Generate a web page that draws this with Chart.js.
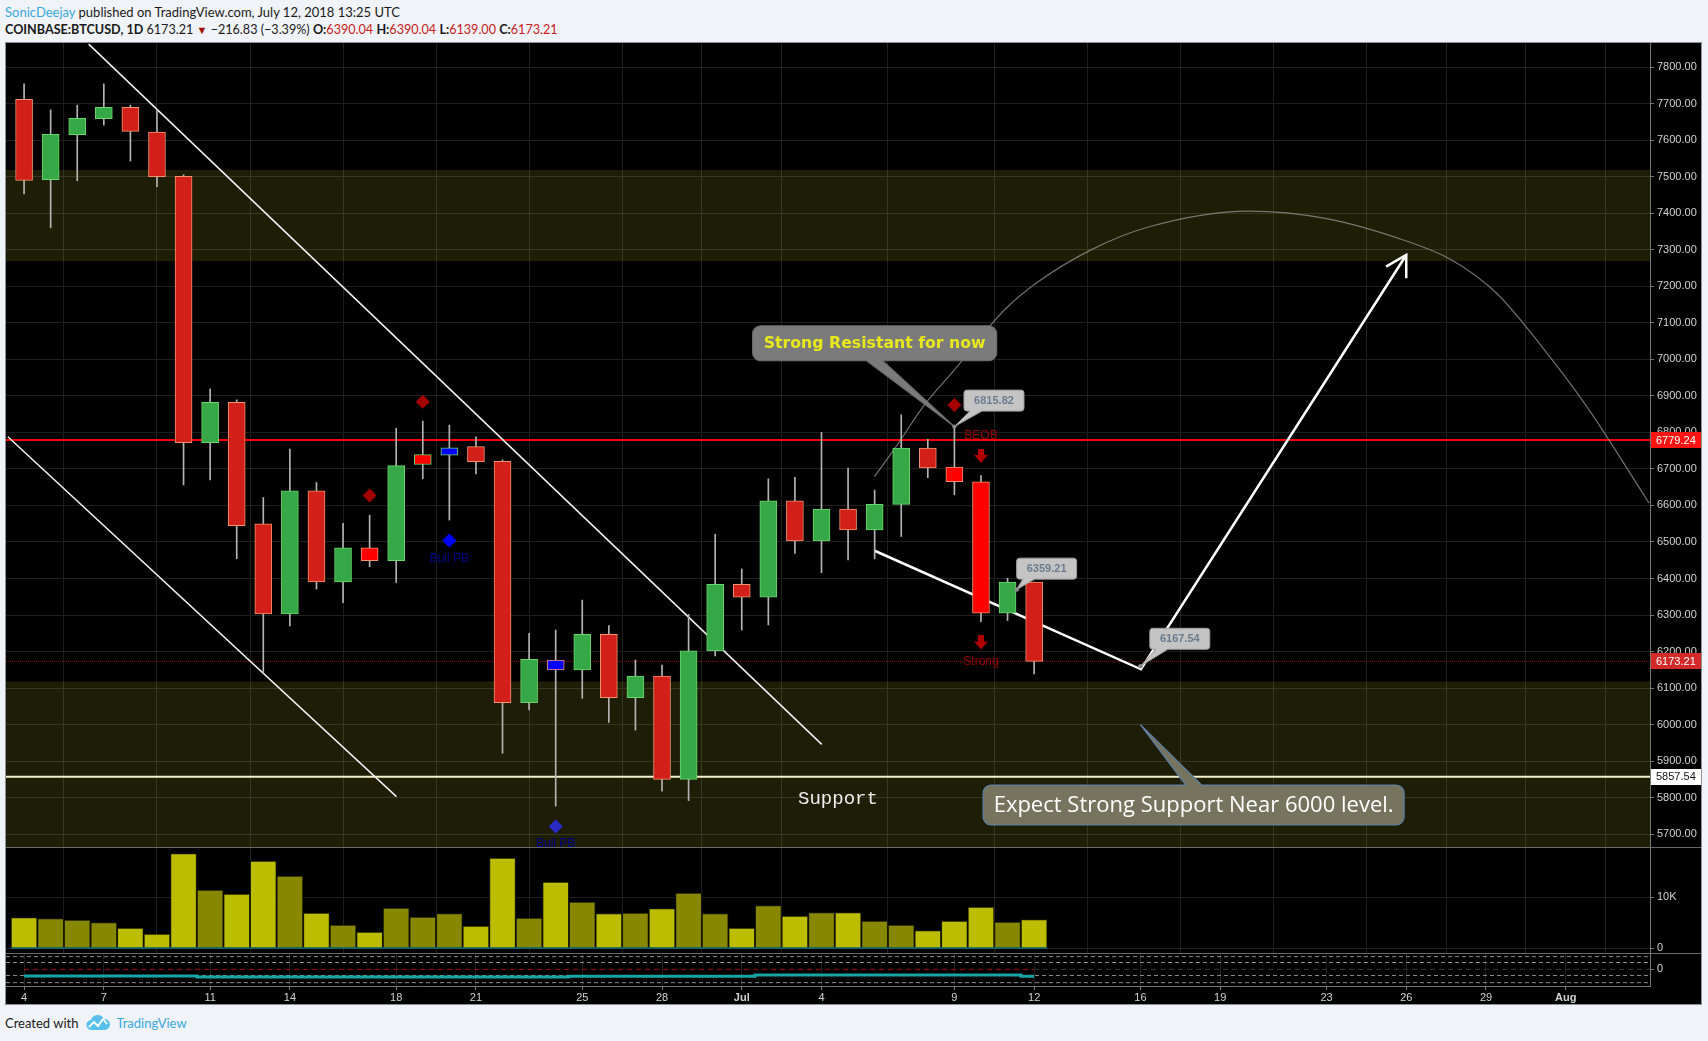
<!DOCTYPE html>
<html>
<head>
<meta charset="utf-8">
<title>COINBASE:BTCUSD 1D</title>
<script src="https://cdn.jsdelivr.net/npm/chart.js@4.4.1/dist/chart.umd.min.js"></script>
<style>
  html, body { margin: 0; padding: 0; }
  body { width: 1708px; height: 1041px; background: #f0f3f7; position: relative; overflow: hidden;
         font-family: Lato, "Liberation Sans", sans-serif; color: #1a1a1a; }
  .hdr { position: absolute; left: 5px; font-size: 13px; white-space: nowrap; }
  #hdr1 { top: 4px; }
  #hdr2 { top: 22px; font-size: 12.6px; }
  .user { color: #3aa8df; }
  .red { color: #c8201e; }
  .dn { color: #a30d0d; font-size: 11px; }
  .panel { position: absolute; left: 5px; top: 42px; width: 1697px; height: 963px; box-sizing: border-box;
           border: 1px solid #8c9298; background: #000; }
  canvas { position: absolute; left: 6px; }
  .sep { position: absolute; left: 6px; width: 1695px; height: 1px; background: #6a6a6a; }
  #foot { position: absolute; left: 5px; top: 1015px; font-size: 13px; display: flex; align-items: center; white-space: nowrap; }
  #foot svg { margin: 0 6px 0 8px; }
  .tv { color: #3aa8df; }
</style>
</head>
<body>
<div class="hdr" id="hdr1"><span class="user">SonicDeejay</span> published on TradingView.com, July 12, 2018 13:25 UTC</div>
<div class="hdr" id="hdr2"><b>COINBASE:BTCUSD, 1D</b> 6173.21 <span class="dn">▼</span> −216.83 (−3.39%) <b>O:</b><span class="red">6390.04</span> <b>H:</b><span class="red">6390.04</span> <b>L:</b><span class="red">6139.00</span> <b>C:</b><span class="red">6173.21</span></div>
<div class="panel"></div>
<canvas id="price" width="1695" height="804" style="top:43px"></canvas>
<div class="sep" style="top:847px"></div>
<canvas id="volume" width="1695" height="105" style="top:848px"></canvas>
<div class="sep" style="top:953px"></div>
<canvas id="osc" width="1695" height="50" style="top:954px"></canvas>
<div id="foot">Created with
  <svg width="24" height="16" viewBox="0 0 24 16"><path d="M6 15 A5 5 0 0 1 5 5 A7 7 0 0 1 18 4 A5.5 5.5 0 0 1 19 15 Z" fill="#58c0ea"/><polyline points="3,12 8,7 12,11 17,4 21,9" fill="none" stroke="#fff" stroke-width="1.8"/></svg>
  <span class="tv">TradingView</span></div>

<script>
// ---- daily candles, 2018-06-04 .. 2018-07-12 (x = day index)
const dates = ['06-04','06-05','06-06','06-07','06-08','06-09','06-10','06-11','06-12','06-13',
               '06-14','06-15','06-16','06-17','06-18','06-19','06-20','06-21','06-22','06-23',
               '06-24','06-25','06-26','06-27','06-28','06-29','06-30','07-01','07-02','07-03',
               '07-04','07-05','07-06','07-07','07-08','07-09','07-10','07-11','07-12'];
const opens  = [7712,7492,7615,7659,7690,7622,7501,6772,6882,6550,6303,6640,6391,6484,6449,6712,6738,6761,6721,6060,
                6177,6150,6247,6074,6133,5850,6202,6384,6349,6613,6503,6590,6533,6603,6757,6705,6665,6305,6390.04];
const highs  = [7754,7683,7696,7754,7696,7683,7505,6919,6889,6622,6754,6663,6551,6573,6811,6831,6820,6788,6725,6250,
                6259,6341,6271,6177,6163,6302,6521,6426,6673,6677,6800,6702,6642,6848,6781,6815.82,6682,6401,6390.04];
const lows   = [7453,7360,7489,7641,7543,7473,6656,6670,6454,6141,6270,6371,6334,6432,6389,6673,6560,6686,5922,6040,
                5777,6072,6006,5985,5818,5792,6188,6259,6273,6469,6416,6451,6454,6515,6676,6629,6282,6285,6139.00];
const closes = [7490,7616,7660,7690,7624,7500,6772,6882,6545,6303,6640,6391,6484,6449,6709,6739,6758,6720,6060,6179,
                6150,6247,6074,6133,5850,6202,6384,6349,6613,6503,6590,6533,6603,6757,6703,6665,6305,6390,6173.21];
const volumes = [5983,5786,5523,4997,3945,2761,18606,11440,10651,17160,14201,6903,4536,3156,7890,6114,6772,4339,17751,5917,
                 13018,9073,6772,6903,7758,10848,6772,3945,8350,6312,6969,6969,5325,4536,3419,5325,8087,5128,5588];
const hotBars  = [13, 15, 35, 36];   // bar colour signal: bright red
const blueBars = [16, 20];           // bar colour signal: blue

// ---- signals
const bearDiamondDays = [13, 15, 35], bearDiamondPrices = [6627, 6884, 6875];
const bullDiamondDays = [16, 20],     bullDiamondPrices = [6504, 5721];
const arrowDays = [36, 36],           arrowPrices = [6736, 6225];
const oscValues = [-1.03,-1.03,-1.03,-1.03,-1.03,-1.03,-1.03,
                   -1.18,-1.18,-1.18,-1.18,-1.18,-1.18,-1.18,-1.18,-1.18,-1.18,-1.18,-1.18,-1.18,-1.18,
                   -1.08,-1.08,-1.08,-1.08,-1.08,-1.08,-1.08,
                   -0.88,-0.88,-0.88,-0.88,-0.88,-0.88,-0.88,-0.88,-0.88,-0.88,-1.08];
const oscLevels = [1.95, 1.05, -0.95, -2.05];

// ---- drawings (day, price)
const resistZone = [7269, 7518];
const supportZone = [5600, 6118];
const redLevel = 6779.24, lastPrice = 6173.21, supportLevel = 5857.54;
const trendUpper = [[2.43, 7863], [30.01, 5946]];
const trendLower = [[-0.61, 6788], [14.01, 5803]];
const projection = [[32.0, 6476], [42.02, 6151.5], [52.0, 7285.6]];
const arrowHead  = [[51.24, 7253.6], [52.0, 7285.6], [52.0, 7221.9]];
const arcPoints  = [[31.99, 6679], [32.72, 6752], [33.92, 6880], [35.0, 6971], [36.21, 7080], [36.88, 7135],
                    [38.07, 7208], [40.12, 7299], [42.33, 7363], [46.06, 7406], [48.95, 7386], [52.0, 7324],
                    [53.71, 7272], [55.4, 7181], [57.1, 7035], [58.8, 6870], [61.14, 6606]];

// ---- axes
const tickDays   = [0, 3, 7, 10, 14, 17, 21, 24, 27, 30, 35, 38, 42, 45, 49, 52, 55, 58];
const tickLabels = ['4','7','11','14','18','21','25','28','Jul','4','9','12','16','19','23','26','29','Aug'];
const priceTicks = [5700,5800,5900,6000,6100,6200,6300,6400,6500,6600,6700,6800,6900,7000,7100,7200,7300,7400,7500,7600,7700,7800];
const volumeTicks = [0, 10000];
const volumeTickLabels = ['0', '10K'];

const X_MIN = -0.68, X_MAX = 61.17;
const P_MIN = 5665, P_MAX = 7866;

const GRID = '#1f1f1f';
const AXIS_LINE = '#777777';
const AXIS_TXT = '#d2d2d2';
const AX_FONT = { family: '"Liberation Sans", Arial, sans-serif', size: 11 };

const UP_FILL = '#36a847', UP_EDGE = '#6bd56b';
const DN_FILL = '#d21f1a', DN_EDGE = '#f0946c';

function isUp(i) { return closes[i] >= opens[i]; }
function bodyFill(i) {
  if (blueBars.includes(i)) return '#0000ff';
  if (hotBars.includes(i)) return '#ff0000';
  return isUp(i) ? UP_FILL : DN_FILL;
}

function arrowImage(color) {
  const c = document.createElement('canvas');
  c.width = 14; c.height = 14;
  const g = c.getContext('2d');
  g.fillStyle = color;
  g.fillRect(4, 0, 6, 7);
  g.beginPath(); g.moveTo(0, 6); g.lineTo(14, 6); g.lineTo(7, 14); g.closePath(); g.fill();
  return c;
}

function pts(list) { return list.map(p => ({ x: p[0], y: p[1] })); }
function flat(v, from, to) { return [{ x: from, y: v }, { x: to, y: v }]; }

function lineSet(data, color, width, order, extra) {
  return Object.assign({ type: 'line', data, borderColor: color, borderWidth: width, pointRadius: 0,
                         fill: false, tension: 0, order }, extra || {});
}

function xAxis(withLabels) {
  return {
    type: 'linear', min: X_MIN, max: X_MAX, offset: false,
    grid: { color: GRID, drawTicks: withLabels, tickLength: 4, tickColor: AXIS_LINE },
    border: { display: withLabels, color: AXIS_LINE },
    ticks: {
      display: withLabels, autoSkip: false, maxRotation: 0, padding: 1, color: AXIS_TXT,
      font: ctx => Object.assign({}, AX_FONT, { weight: /^[A-Z]/.test(tickLabels[ctx.index] || '') ? 'bold' : 'normal' }),
      callback: (v, i) => tickLabels[i]
    },
    afterBuildTicks: s => { s.ticks = tickDays.map(v => ({ value: v })); },
    afterFit: s => { s.height = withLabels ? 18 : 0; s.paddingLeft = 0; s.paddingRight = 0; }
  };
}

function yAxis(min, max, ticks, labels, showGrid) {
  return {
    position: 'right', min, max,
    grid: { color: GRID, drawOnChartArea: showGrid, tickColor: AXIS_LINE, tickLength: 4 },
    border: { color: AXIS_LINE },
    ticks: { color: AXIS_TXT, font: AX_FONT, padding: 3, callback: labels },
    afterBuildTicks: s => { s.ticks = ticks.map(v => ({ value: v })); },
    afterFit: s => { s.width = 51; s.paddingTop = 0; s.paddingBottom = 0; }
  };
}

const baseOptions = {
  responsive: false, animation: false, events: [],
  layout: { padding: 0, autoPadding: false },
  plugins: { legend: { display: false }, tooltip: { enabled: false } }
};

// ---- overlay texts / callouts for the price pane
const signalTexts = [
  { text: 'Bull PB', at: [16, 6453], color: '#00008b', font: '12px "Liberation Sans", Arial' },
  { text: 'Bull PB', at: [20, 5673], color: '#00008b', font: '12px "Liberation Sans", Arial' },
  { text: 'BEOB',    at: [36, 6790], color: '#9a0000', font: '12px "Liberation Sans", Arial' },
  { text: 'Strong',  at: [36, 6171], color: '#9a0000', font: '12px "Liberation Sans", Arial' },
  { text: 'Support', at: [30.62, 5797], color: '#eeeeee', font: '19px "Liberation Mono", monospace' }
];
const bubbles = [
  { text: 'Strong Resistant for now', box: [32.0, 7044], tip: [35, 6815.82], w: 244, h: 35, textW: 222,
    fill: 'rgba(128,128,128,0.96)', stroke: '#6e6e6e', color: '#e8e81c', weight: 'bold', family: '"DejaVu Sans", Verdana, sans-serif' },
  { text: 'Expect Strong Support Near 6000 level.', box: [44.0, 5780], tip: [42.0, 6000], w: 421, h: 40, textW: 400,
    fill: '#76745f', stroke: '#5b80a6', color: '#ffffff', weight: 'normal', family: '"Open Sans", sans-serif' }
];
const priceNotes = [
  { text: '6815.82', box: [36.49, 6887], tip: [35, 6815.82] },
  { text: '6359.21', box: [38.47, 6427], tip: [37.35, 6370] },
  { text: '6167.54', box: [43.48, 6235], tip: [42.0, 6160] }
];
const priceTags = [
  { value: redLevel, bg: '#ff1414', fg: '#ffffff' },
  { value: lastPrice, bg: '#d22a2a', fg: '#ffffff' },
  { value: supportLevel, bg: '#ffffff', fg: '#111111' }
];

function bubblePath(ctx, l, t, w, h, r, tip, b1, b2) {
  const rt = l + w, bt = t + h;
  ctx.beginPath();
  ctx.moveTo(l + r, t);
  if (tip[1] < t) { ctx.lineTo(b1, t); ctx.lineTo(tip[0], tip[1]); ctx.lineTo(b2, t); }
  ctx.lineTo(rt - r, t); ctx.arcTo(rt, t, rt, t + r, r);
  ctx.lineTo(rt, bt - r); ctx.arcTo(rt, bt, rt - r, bt, r);
  if (tip[1] > bt) { ctx.lineTo(b2, bt); ctx.lineTo(tip[0], tip[1]); ctx.lineTo(b1, bt); }
  ctx.lineTo(l + r, bt); ctx.arcTo(l, bt, l, bt - r, r);
  ctx.lineTo(l, t + r); ctx.arcTo(l, t, l + r, t, r);
  ctx.closePath();
}

function fitFont(ctx, text, weight, family, width) {
  ctx.font = weight + ' 20px ' + family;
  const size = 20 * width / ctx.measureText(text).width;
  return weight + ' ' + size.toFixed(2) + 'px ' + family;
}

const overlay = {
  id: 'overlay',
  afterDatasetsDraw(chart) {
    const { ctx, chartArea: a, scales: { x, y } } = chart;
    const X = d => x.getPixelForValue(d), Y = p => y.getPixelForValue(p);
    ctx.save();
    ctx.beginPath(); ctx.rect(a.left, a.top, a.width, a.height); ctx.clip();
    ctx.textAlign = 'center'; ctx.textBaseline = 'middle';

    signalTexts.forEach(s => {
      ctx.font = s.font; ctx.fillStyle = s.color;
      ctx.fillText(s.text, X(s.at[0]), Y(s.at[1]));
    });

    bubbles.forEach(b => {
      const cx = X(b.box[0]), cy = Y(b.box[1]);
      const tip = [X(b.tip[0]), Y(b.tip[1])];
      bubblePath(ctx, cx - b.w / 2, cy - b.h / 2, b.w, b.h, 8, tip, cx - 8, cx + 8);
      ctx.fillStyle = b.fill; ctx.fill();
      ctx.lineWidth = 1.2; ctx.strokeStyle = b.stroke; ctx.stroke();
      ctx.font = fitFont(ctx, b.text, b.weight, b.family, b.textW);
      ctx.fillStyle = b.color;
      ctx.fillText(b.text, cx, cy + 1);
    });

    priceNotes.forEach(n => {
      const cx = X(n.box[0]), cy = Y(n.box[1]);
      const w = 60, h = 21, l = cx - w / 2;
      const tip = [X(n.tip[0]), Y(n.tip[1])];
      bubblePath(ctx, l, cy - h / 2, w, h, 3, tip, l + 6, l + 18);
      ctx.fillStyle = '#c4c4c4'; ctx.fill();
      ctx.lineWidth = 1; ctx.strokeStyle = '#9c9c9c'; ctx.stroke();
      ctx.font = 'bold 11px "Liberation Sans", Arial';
      ctx.fillStyle = '#6a7d90';
      ctx.fillText(n.text, cx, cy + 0.5);
      ctx.beginPath(); ctx.arc(tip[0], tip[1], 2.2, 0, Math.PI * 2);
      ctx.fillStyle = '#8a8a8a'; ctx.fill();
    });
    ctx.restore();
  },
  afterDraw(chart) {
    const { ctx, scales: { y } } = chart;
    ctx.save();
    ctx.font = '11px "Liberation Sans", Arial';
    ctx.textAlign = 'left'; ctx.textBaseline = 'middle';
    priceTags.forEach(t => {
      const py = y.getPixelForValue(t.value);
      ctx.fillStyle = t.bg;
      ctx.fillRect(y.left + 1, Math.round(py) - 8, y.right - y.left - 1, 16);
      ctx.fillStyle = t.fg;
      ctx.fillText(t.value.toFixed(2), y.left + 6, py + 0.5);
    });
    ctx.restore();
  }
};

// ---- price pane
const candleX = dates.map((d, i) => i);
new Chart(document.getElementById('price'), {
  type: 'bar',
  data: {
    datasets: [
      lineSet(flat(resistZone[1], X_MIN, X_MAX), 'rgba(0,0,0,0)', 0, 100,
              { fill: { value: resistZone[0] }, backgroundColor: 'rgba(215,205,40,0.14)' }),
      lineSet(flat(supportZone[1], X_MIN, X_MAX), 'rgba(0,0,0,0)', 0, 100,
              { fill: { value: supportZone[0] }, backgroundColor: 'rgba(215,205,40,0.14)' }),
      lineSet(flat(lastPrice, X_MIN, X_MAX), '#8e1212', 1, 70, { borderDash: [1, 1] }),
      lineSet(flat(supportLevel, X_MIN, X_MAX), '#f3f0cc', 2, 70),
      lineSet(flat(redLevel, X_MIN, X_MAX), '#ff0000', 2, 70),
      lineSet(pts(arcPoints), 'rgba(150,150,150,0.75)', 1.2, 60, { cubicInterpolationMode: 'monotone' }),
      lineSet(pts(trendUpper), '#f2f2f2', 1.5, 50),
      lineSet(pts(trendLower), '#f2f2f2', 1.5, 50),
      lineSet(pts(projection), '#ffffff', 2.5, 50),
      lineSet(pts(arrowHead), '#ffffff', 2.5, 50),
      {
        type: 'bar', order: 20, grouped: false, barThickness: 1,
        data: candleX.map(i => ({ x: i, y: [lows[i], highs[i]] })),
        backgroundColor: '#b4b4b4', borderWidth: 0
      },
      {
        type: 'bar', order: 10, grouped: false, barThickness: 17,
        data: candleX.map(i => ({ x: i, y: [opens[i], closes[i]] })),
        backgroundColor: candleX.map(bodyFill),
        borderColor: candleX.map(i => isUp(i) ? UP_EDGE : DN_EDGE),
        borderWidth: 1, borderSkipped: false
      },
      lineSet(bearDiamondDays.map((d, i) => ({ x: d, y: bearDiamondPrices[i] })), '#a00000', 0, 5,
              { showLine: false, pointStyle: 'rectRot', pointRadius: 7, pointBackgroundColor: '#a30000', pointBorderWidth: 0 }),
      lineSet(bullDiamondDays.map((d, i) => ({ x: d, y: bullDiamondPrices[i] })), '#0000ff', 0, 5,
              { showLine: false, pointStyle: 'rectRot', pointRadius: 7, pointBackgroundColor: ['#0000ff', '#2a2ac8'], pointBorderWidth: 0 }),
      lineSet(arrowDays.map((d, i) => ({ x: d, y: arrowPrices[i] })), '#b00000', 0, 5,
              { showLine: false, pointStyle: arrowImage('#b00000'), pointRadius: 7 })
    ]
  },
  options: Object.assign({}, baseOptions, {
    scales: {
      x: xAxis(false),
      y: yAxis(P_MIN, P_MAX, priceTicks, v => v.toFixed(2), true)
    }
  }),
  plugins: [overlay]
});

// ---- volume pane
new Chart(document.getElementById('volume'), {
  type: 'bar',
  data: {
    datasets: [
      lineSet(flat(0, -0.5, 38.5), '#19a3a3', 1, 1),
      {
        type: 'bar', order: 5, grouped: false, barThickness: 26,
        data: candleX.map(i => ({ x: i, y: volumes[i] })),
        backgroundColor: candleX.map(i => isUp(i) ? '#878700' : '#bdbd00'),
        borderColor: '#1b1b00', borderWidth: 1, borderSkipped: 'bottom'
      }
    ]
  },
  options: Object.assign({}, baseOptions, {
    scales: {
      x: xAxis(false),
      y: yAxis(-986, 19724, volumeTicks, (v, i) => volumeTickLabels[i], true)
    }
  })
});

// ---- oscillator pane + date axis
new Chart(document.getElementById('osc'), {
  type: 'line',
  data: {
    datasets: [
      ...oscLevels.map(v => lineSet(flat(v, X_MIN, X_MAX), 'rgba(200,200,200,0.7)', 1, 20, { borderDash: [4, 3] })),
      lineSet(flat(0, 0, 38), '#a01414', 1, 15, { borderDash: [5, 4] }),
      lineSet(flat(0, 38, X_MAX), '#3a3a3a', 1, 15, { borderDash: [5, 4] }),
      lineSet(candleX.map(i => ({ x: i, y: oscValues[i] })), '#17a5a5', 3, 1, { stepped: 'middle' })
    ]
  },
  options: Object.assign({}, baseOptions, {
    scales: {
      x: xAxis(true),
      y: yAxis(-2.569, 2.354, [0], () => '0', false)
    }
  })
});
</script>
</body>
</html>
